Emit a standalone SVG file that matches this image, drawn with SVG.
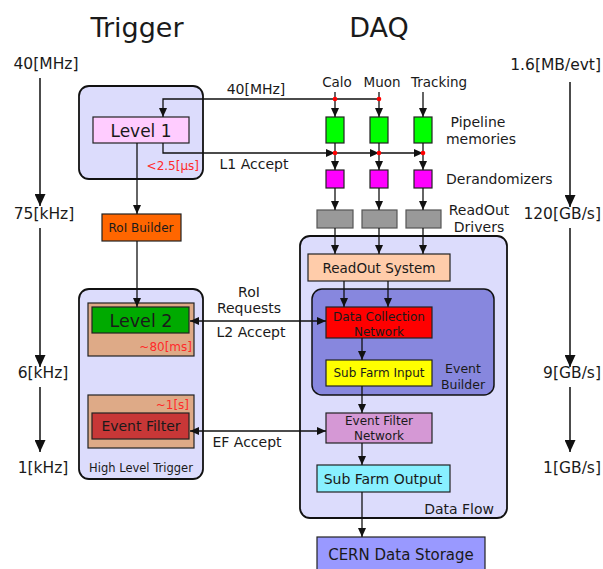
<svg xmlns="http://www.w3.org/2000/svg" width="603" height="569" viewBox="0 0 603 569">
<style>
text{font-family:"DejaVu Sans","Liberation Sans",sans-serif;fill:#1a1a1a}
.c{text-anchor:middle}
.e{text-anchor:end}
.red{fill:#ff2a2a}
.frame{fill:#dcdcfc;stroke:#111;stroke-width:1.8}
.box{stroke:#222;stroke-width:1.2}
.ln{fill:none;stroke:#111;stroke-width:1.3}
.big{fill:none;stroke:#111;stroke-width:1.5}
</style>
<defs>
<marker id="a" markerUnits="userSpaceOnUse" markerWidth="9" markerHeight="8" refX="9" refY="4" orient="auto-start-reverse"><path d="M0,0 L9,4 L0,8 Z" fill="#111"/></marker>
<marker id="b" markerUnits="userSpaceOnUse" markerWidth="12" markerHeight="11" refX="12" refY="5.5" orient="auto"><path d="M0,0 L12,5.5 L0,11 Z" fill="#111"/></marker>
</defs>

<g id="titles">
<text x="137" y="37" class="c" font-size="27">Trigger</text>
<text x="379" y="37" class="c" font-size="27">DAQ</text>
</g>

<g id="rates-left" font-size="15.5">
<text x="46" y="69" class="c" font-size="15.5">40[MHz]</text>
<text x="44" y="219" class="c" font-size="15.5">75[kHz]</text>
<text x="43" y="378" class="c" font-size="15.5">6[kHz]</text>
<text x="43" y="473" class="c" font-size="15.5">1[kHz]</text>
</g>
<g id="rates-right">
<text x="601" y="70" class="e" font-size="15.5">1.6[MB/evt]</text>
<text x="601" y="219" class="e" font-size="15.5">120[GB/s]</text>
<text x="601" y="378" class="e" font-size="15.5">9[GB/s]</text>
<text x="601" y="473" class="e" font-size="15.5">1[GB/s]</text>
</g>

<g id="trigger-l1">
<rect class="frame" x="79" y="86" width="124" height="93" rx="10"/>
<rect class="box" x="93" y="117" width="96" height="26" fill="#ffccff"/>
<text x="141" y="137" class="c" font-size="17">Level 1</text>
<text x="199" y="170" class="e red" font-size="12">&lt;2.5[µs]</text>
</g>

<g id="roi-builder">
<rect class="box" x="102" y="214" width="79" height="27" fill="#ff6600"/>
<text x="141" y="232" class="c" font-size="12">RoI Builder</text>
</g>

<g id="hlt">
<rect class="frame" x="79" y="289" width="124" height="190" rx="10"/>
<text x="141" y="472" class="c" font-size="11.5">High Level Trigger</text>
</g>
<g id="level2">
<rect class="box" x="88" y="303" width="106" height="53" fill="#deaa87"/>
<rect class="box" x="92" y="307" width="97" height="26" fill="#00aa00"/>
<text x="141" y="327" class="c" font-size="17.5">Level 2</text>
<text x="192" y="351" class="e red" font-size="12">~80[ms]</text>
</g>
<g id="event-filter">
<rect class="box" x="88" y="395" width="106" height="53" fill="#deaa87"/>
<rect class="box" x="92" y="413" width="97" height="26" fill="#c83737"/>
<text x="141" y="431" class="c" font-size="14">Event Filter</text>
<text x="189" y="409" class="e red" font-size="12">~1[s]</text>
</g>

<g id="detectors" font-size="13.5">
<text x="337" y="87" class="c" font-size="13.5">Calo</text>
<text x="382" y="87" class="c" font-size="13.5">Muon</text>
<text x="439" y="87" class="c" font-size="13.5">Tracking</text>
</g>

<g id="pipelines">
<rect class="box" x="326" y="117" width="18" height="26" fill="#00ff00"/>
<rect class="box" x="370" y="117" width="18" height="26" fill="#00ff00"/>
<rect class="box" x="414" y="117" width="18" height="26" fill="#00ff00"/>
<text x="478" y="127" class="c" font-size="14">Pipeline</text>
<text x="481" y="144" class="c" font-size="14">memories</text>
</g>
<g id="derandomizers">
<rect class="box" x="326" y="170" width="18" height="18" fill="#ff00ff"/>
<rect class="box" x="370" y="170" width="18" height="18" fill="#ff00ff"/>
<rect class="box" x="414" y="170" width="18" height="18" fill="#ff00ff"/>
<text x="446" y="184" font-size="14">Derandomizers</text>
</g>
<g id="rods">
<rect x="317" y="210" width="36" height="18" fill="#999999" stroke="#555" stroke-width="1.2"/>
<rect x="362" y="210" width="35" height="18" fill="#999999" stroke="#555" stroke-width="1.2"/>
<rect x="406" y="210" width="35" height="18" fill="#999999" stroke="#555" stroke-width="1.2"/>
<text x="479" y="215" class="c" font-size="14">ReadOut</text>
<text x="479" y="232" class="c" font-size="14">Drivers</text>
</g>

<g id="dataflow">
<rect class="frame" x="300" y="236" width="207" height="282" rx="10"/>
<text x="494" y="514" class="e" font-size="14">Data Flow</text>
</g>
<g id="ros">
<rect class="box" x="308" y="254" width="142" height="27" fill="#ffccaa"/>
<text x="379" y="273" class="c" font-size="13.5">ReadOut System</text>
</g>
<g id="event-builder">
<rect x="312" y="289" width="182" height="106" rx="10" fill="#8787de" stroke="#111" stroke-width="1.5"/>
<text x="463" y="373" class="c" font-size="12.5">Event</text>
<text x="463" y="389" class="c" font-size="12.5">Builder</text>
</g>
<g id="dcn">
<rect class="box" x="326" y="307" width="106" height="31" fill="#ff0000"/>
<text x="379" y="321" class="c" font-size="12">Data Collection</text>
<text x="379" y="336" class="c" font-size="12">Network</text>
</g>
<g id="sfi">
<rect class="box" x="326" y="360" width="106" height="26" fill="#ffff00"/>
<text x="379" y="377" class="c" font-size="12">Sub Farm Input</text>
</g>
<g id="efn">
<rect class="box" x="326" y="413" width="106" height="30" fill="#d598d5"/>
<text x="379" y="425" class="c" font-size="12">Event Filter</text>
<text x="379" y="440" class="c" font-size="12">Network</text>
</g>
<g id="sfo">
<rect class="box" x="317" y="465" width="133" height="27" fill="#88f0ff"/>
<text x="383" y="484" class="c" font-size="14">Sub Farm Output</text>
</g>
<g id="cern">
<rect class="box" x="317" y="537" width="168" height="40" fill="#9999ff"/>
<text x="401" y="560" class="c" font-size="15">CERN Data Storage</text>
</g>

<g id="labels">
<text x="256" y="94" class="c" font-size="14">40[MHz]</text>
<text x="254" y="169" class="c" font-size="14">L1 Accept</text>
<text x="249" y="297" class="c" font-size="14">RoI</text>
<text x="249" y="313" class="c" font-size="14">Requests</text>
<text x="251" y="337" class="c" font-size="14">L2 Accept</text>
<text x="247" y="447" class="c" font-size="14">EF Accept</text>
</g>

<g id="connectors">
<path class="big" d="M40,78 V206" marker-end="url(#b)"/>
<path class="big" d="M40,228 V367" marker-end="url(#b)"/>
<path class="big" d="M40,387 V452" marker-end="url(#b)"/>
<path class="big" d="M570,82 V207" marker-end="url(#b)"/>
<path class="big" d="M570,228 V367" marker-end="url(#b)"/>
<path class="big" d="M570,387 V452" marker-end="url(#b)"/>

<path class="ln" d="M335,92 V117" marker-end="url(#a)"/>
<path class="ln" d="M379,92 V117" marker-end="url(#a)"/>
<path class="ln" d="M423,92 V117" marker-end="url(#a)"/>
<path class="ln" d="M379,99 H163 V117" marker-end="url(#a)"/>
<path class="ln" d="M163,143 V153 H335" marker-end="url(#a)"/>
<path class="ln" d="M335,153 H379" marker-end="url(#a)"/>
<path class="ln" d="M379,153 H423" marker-end="url(#a)"/>
<path class="ln" d="M335,143 V170" marker-end="url(#a)"/>
<path class="ln" d="M379,143 V170" marker-end="url(#a)"/>
<path class="ln" d="M423,143 V170" marker-end="url(#a)"/>
<path class="ln" d="M335,188 V210" marker-end="url(#a)"/>
<path class="ln" d="M379,188 V210" marker-end="url(#a)"/>
<path class="ln" d="M423,188 V210" marker-end="url(#a)"/>
<path class="ln" d="M335,228 V254" marker-end="url(#a)"/>
<path class="ln" d="M379,228 V254" marker-end="url(#a)"/>
<path class="ln" d="M423,228 V254" marker-end="url(#a)"/>

<path class="ln" d="M137,143 V214" marker-end="url(#a)"/>
<path class="ln" d="M137,241 V307" marker-end="url(#a)"/>
<path class="ln" d="M190,321 H326" marker-start="url(#a)" marker-end="url(#a)"/>
<path class="ln" d="M190,431 H326" marker-start="url(#a)" marker-end="url(#a)"/>

<path class="ln" d="M344,281 V307" stroke="#333" marker-end="url(#a)"/>
<path class="ln" d="M388,281 V307" stroke="#333" marker-end="url(#a)"/>
<path class="ln" d="M362,338 V360" marker-end="url(#a)"/>
<path class="ln" d="M362,386 V413" marker-end="url(#a)"/>
<path class="ln" d="M362,443 V465" marker-end="url(#a)"/>
<path class="ln" d="M362,492 V537" marker-end="url(#a)"/>

<g fill="#ff0000">
<circle cx="335" cy="99" r="2.3"/>
<circle cx="379" cy="99" r="2.3"/>
<circle cx="335" cy="153" r="2.3"/>
<circle cx="379" cy="153" r="2.3"/>
<circle cx="423" cy="153" r="2.3"/>
</g>
</g>
</svg>
